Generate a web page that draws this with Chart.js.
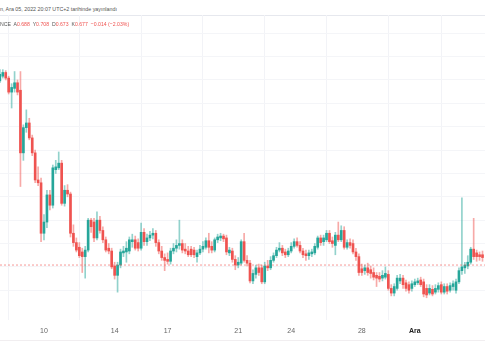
<!DOCTYPE html>
<html>
<head>
<meta charset="utf-8">
<script src="https://cdn.jsdelivr.net/npm/chart.js@4/dist/chart.umd.min.js"></script>
<style>
  html, body { margin:0; padding:0; background:#ffffff; }
  body { width:485px; height:360px; position:relative; overflow:hidden; font-family:"Liberation Sans", Arial, sans-serif; }
  #hdr1 { position:absolute; left:0; top:4px; font-size:7.6px; color:#555; white-space:nowrap; line-height:10px; transform:scale(0.7,0.8); transform-origin:0 50%; }
  #sep { position:absolute; left:0; top:15px; width:485px; height:1px; background:#e6e8ee; }
  #hdr2 { position:absolute; left:0; top:19px; font-size:7.6px; color:#555; white-space:nowrap; line-height:10px; z-index:2; transform:scale(0.68,0.8); transform-origin:0 50%; }
  #hdr2 .v { color:#ef5350; }
  #wrap { position:absolute; left:0; top:15px; width:485px; height:325px; }
  #bot { position:absolute; left:0; top:340px; width:485px; height:1px; background:#f1eef0; }
</style>
</head>
<body>
<div id="hdr1">n, Ara 05, 2022 20:07 UTC+2 tarihinde yayınlandı</div>
<div id="sep"></div>
<div id="wrap"><canvas id="c" width="485" height="325"></canvas></div>
<div id="hdr2">NCE&nbsp; A<span class="v">0.688</span>&nbsp; Y<span class="v">0.708</span>&nbsp; D<span class="v">0.673</span>&nbsp; K<span class="v">0.677</span>&nbsp; <span class="v">−0.014 (−2.03%)</span></div>
<div id="bot"></div>
<script>
// 4-hour candles, index 0 = first visible bar
const opens = [.874,.879,.883,.877,.862,.866,.872,.864,.797,.824,.829,.813,.797,.768,.765,.711,.723,.752,.741,.779,
  .781,.786,.743,.757,.753,.711,.701,.696,.691,.686,.693,.725,.723,.706,.725,.714,.704,.695,.692,.676,
  .666,.677,.690,.691,.692,.702,.704,.701,.695,.712,.702,.706,.709,.711,.701,.692,.685,.683,.681,.692,
  .695,.698,.700,.694,.692,.694,.693,.686,.690,.694,.696,.703,.697,.693,.704,.706,.708,.706,.690,.692,
  .683,.677,.679,.702,.682,.679,.660,.667,.674,.674,.659,.676,.674,.682,.687,.693,.695,.691,.688,.692,
  .697,.702,.698,.692,.689,.687,.689,.690,.696,.706,.702,.704,.711,.703,.698,.709,.704,.714,.696,.701,
  .700,.691,.686,.673,.671,.674,.672,.669,.666,.665,.663,.664,.667,.652,.647,.652,.660,.663,.658,.656,
  .652,.656,.658,.661,.659,.652,.647,.651,.648,.651,.656,.648,.654,.650,.654,.650,.659,.671,.674,.676,
  .680,.694,.690,.688,.688];
const highs = [.886,.886,.885,.879,.871,.884,.875,.884,.827,.843,.834,.816,.800,.782,.770,.731,.757,.757,.784,.789,
  .798,.789,.762,.763,.755,.720,.706,.701,.695,.697,.727,.727,.727,.734,.729,.718,.707,.700,.695,.680,
  .680,.694,.697,.702,.707,.710,.708,.705,.722,.716,.710,.713,.716,.714,.704,.697,.689,.690,.695,.700,
  .704,.725,.704,.700,.697,.697,.696,.693,.698,.702,.706,.711,.702,.706,.710,.711,.710,.709,.696,.695,
  .687,.685,.704,.711,.687,.682,.672,.677,.678,.677,.680,.682,.686,.690,.696,.701,.698,.694,.695,.701,
  .705,.706,.702,.695,.693,.693,.694,.700,.708,.709,.709,.714,.714,.707,.712,.723,.719,.718,.704,.705,
  .704,.695,.689,.678,.677,.679,.676,.674,.669,.669,.671,.675,.671,.656,.657,.666,.667,.666,.661,.659,
  .660,.662,.663,.664,.662,.656,.656,.655,.656,.658,.659,.657,.657,.658,.660,.662,.674,.749,.680,.687,
  .696,.727,.693,.691,.692];
const lows = [.872,.877,.875,.860,.845,.862,.859,.761,.789,.819,.811,.794,.765,.762,.702,.704,.717,.736,.738,.775,
  .779,.741,.740,.750,.707,.697,.691,.685,.669,.663,.691,.712,.702,.704,.711,.701,.691,.689,.673,.662,
  .648,.674,.686,.680,.689,.696,.693,.692,.693,.698,.698,.703,.705,.697,.689,.682,.671,.678,.678,.689,
  .691,.694,.690,.689,.686,.686,.685,.680,.688,.691,.694,.690,.690,.691,.701,.703,.702,.688,.687,.680,
  .672,.674,.677,.680,.676,.658,.657,.663,.666,.657,.657,.671,.672,.680,.685,.691,.687,.685,.686,.690,
  .695,.696,.690,.685,.682,.683,.686,.688,.694,.698,.698,.702,.700,.696,.688,.702,.702,.694,.694,.695,
  .689,.682,.666,.666,.667,.666,.663,.661,.654,.659,.660,.662,.650,.644,.644,.650,.657,.652,.649,.647,
  .649,.654,.656,.654,.643,.642,.645,.644,.646,.648,.646,.646,.646,.648,.650,.647,.657,.667,.668,.673,
  .678,.683,.681,.682,.681];
const closes = [.881,.883,.877,.862,.867,.872,.862,.797,.824,.829,.813,.797,.768,.765,.711,.723,.752,.741,.781,.782,
  .786,.743,.757,.753,.711,.701,.693,.687,.686,.693,.725,.718,.706,.725,.714,.704,.693,.692,.675,.666,
  .677,.691,.692,.695,.704,.704,.695,.695,.712,.702,.706,.709,.711,.701,.692,.685,.682,.681,.692,.695,
  .698,.700,.693,.692,.688,.688,.688,.690,.694,.697,.703,.696,.693,.704,.707,.708,.705,.691,.693,.683,
  .677,.680,.702,.682,.679,.660,.668,.674,.669,.659,.676,.674,.682,.687,.693,.695,.690,.688,.692,.697,
  .702,.698,.692,.688,.687,.690,.691,.697,.706,.701,.706,.711,.702,.700,.709,.704,.714,.696,.701,.698,
  .691,.686,.669,.669,.674,.669,.668,.664,.663,.662,.666,.668,.652,.647,.654,.663,.663,.656,.652,.650,
  .657,.659,.660,.656,.646,.645,.652,.646,.652,.655,.648,.654,.649,.655,.657,.659,.671,.675,.677,.680,
  .694,.686,.686,.686,.685];
const tickIdx = [15, 39, 57, 81, 99, 123, 141];
const tickLabels = ['10', '14', '17', '21', '24', '28', 'Ara'];
const lastClose = 0.677;

const UP = '#26a69a', DOWN = '#ef5350';
const UPW = 'rgba(38,166,154,0.5)', DOWNW = 'rgba(239,83,80,0.5)';
const idx = opens.map((_, i) => i);
const isUp = idx.map(i => closes[i] >= opens[i]);

const X_MIN = 0.05, X_MAX = 164.85;

new Chart(document.getElementById('c'), {
  data: {
    datasets: [
      {
        type: 'line', order: 0,
        data: [{x: X_MIN, y: lastClose}, {x: X_MAX, y: lastClose}],
        borderColor: 'rgba(239,83,80,0.6)', borderWidth: 1, borderDash: [2, 2],
        pointRadius: 0, fill: false
      },
      {
        type: 'bar', order: 1, grouped: false,
        data: idx.map(i => ({x: i, y: [opens[i], closes[i]]})),
        backgroundColor: idx.map(i => isUp[i] ? UP : DOWN),
        barThickness: 2, minBarLength: 1, borderWidth: 0
      },
      {
        type: 'bar', order: 2, grouped: false,
        data: idx.map(i => ({x: i, y: [lows[i], highs[i]]})),
        backgroundColor: idx.map(i => isUp[i] ? UPW : DOWNW),
        barThickness: 1, borderWidth: 0
      }
    ]
  },
  options: {
    responsive: false, animation: false,
    layout: { padding: 0 },
    plugins: { legend: { display: false }, tooltip: { enabled: false } },
    scales: {
      x: {
        type: 'linear', min: X_MIN, max: X_MAX, offset: false,
        border: { display: false },
        grid: { color: '#f2f3f7', drawTicks: false, lineWidth: 1 },
        afterBuildTicks: (s) => { s.ticks = tickIdx.map(v => ({ value: v })); },
        afterFit: (s) => { s.height = 20; },
        ticks: {
          autoSkip: false, maxRotation: 0, padding: 7,
          font: (ctx) => ({ family: '"Liberation Sans", Arial, sans-serif', size: 7, weight: (ctx.tick && ctx.tick.value === 141) ? 'bold' : 'normal' }),
          color: (ctx) => (ctx.tick && ctx.tick.value === 141) ? '#222' : '#666',
          callback: (v) => { const k = tickIdx.indexOf(v); return k >= 0 ? tickLabels[k] : ''; }
        }
      },
      y: {
        type: 'linear', position: 'right', min: 0.6182, max: 0.9445,
        border: { display: false },
        grid: { color: '#f4f5f8', drawTicks: false },
        ticks: { display: false, stepSize: 0.025 },
        afterBuildTicks: (s) => { s.ticks = s.ticks.filter(t => Math.abs(t.value / 0.025 - Math.round(t.value / 0.025)) < 1e-6); },
        afterFit: (s) => { s.width = 0; }
      }
    }
  }
});
</script>
</body>
</html>
